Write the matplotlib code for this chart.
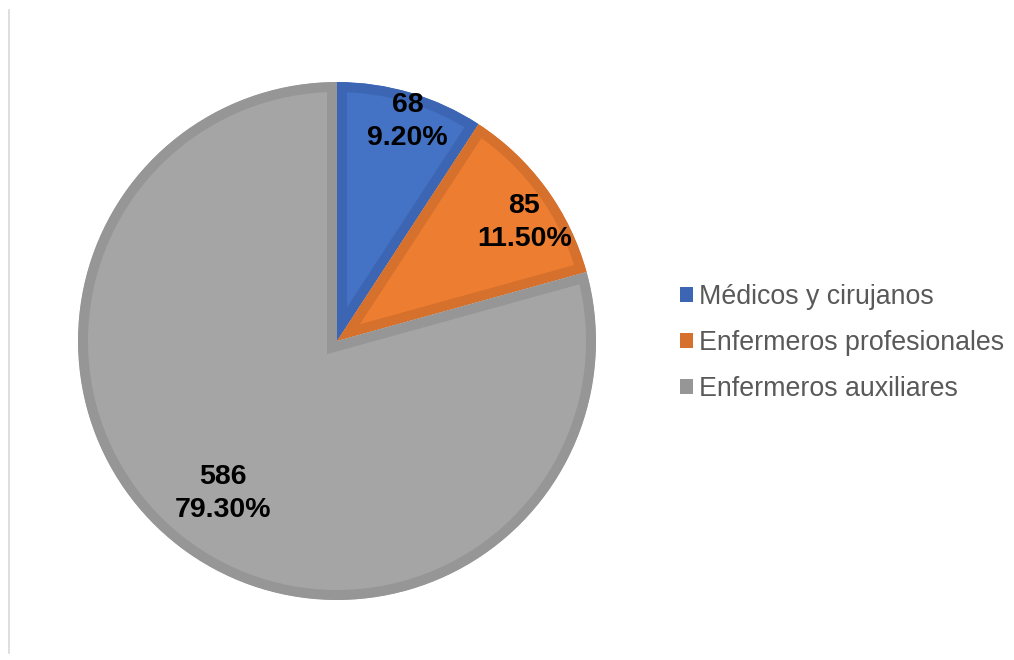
import matplotlib
matplotlib.use("Agg")
import numpy as np
import matplotlib.pyplot as plt
from matplotlib.patches import Patch
from matplotlib.lines import Line2D

plt.rcParams['font.family'] = ['Liberation Sans', 'DejaVu Sans']

categories = ["Médicos y cirujanos", "Enfermeros profesionales", "Enfermeros auxiliares"]
counts = [68, 85, 586]
percent_labels = ["9.20%", "11.50%", "79.30%"]
fill_colors = ["#4472C4", "#ED7D31", "#A5A5A5"]
edge_colors = ["#3C66B3", "#D5712C", "#969696"]

fig = plt.figure(figsize=(10.14, 6.60), dpi=100)
ax = fig.add_axes([78 / 1014, 60 / 660, 518 / 1014, 518 / 660])

wedges, _ = ax.pie(counts, colors=fill_colors, startangle=90, counterclock=False,
                   radius=1.0, wedgeprops=dict(linewidth=14.4))
# inner border: stroke each wedge with a darker shade clipped to its own shape
for w, ec in zip(wedges, edge_colors):
    w.set_edgecolor(ec)
    w.set_clip_path(w)
    w.set_clip_on(True)

ax.set_xlim(-1, 1)
ax.set_ylim(-1, 1)
ax.set_aspect('equal')

# value labels: distance from centre and small angular nudge from each slice's mid angle
label_radius = [0.89, 0.857, 0.736]
label_nudge = [-1.3, -3.8, 0.35]
for w, n, p, r, d in zip(wedges, counts, percent_labels, label_radius, label_nudge):
    ang = np.deg2rad((w.theta1 + w.theta2) / 2 + d)
    ax.text(r * np.cos(ang), r * np.sin(ang), f"{n}\n{p}", ha='center', va='center',
            fontsize=20.5, fontweight='bold', color='black', linespacing=1.36, clip_on=False)

handles = [Patch(facecolor=c, edgecolor='none') for c in edge_colors]
leg = fig.legend(handles, categories, loc='center left', bbox_to_anchor=(669 / 1014, 1 - 343 / 660),
                 frameon=False, fontsize=19.3, labelcolor='#595959', handlelength=0.5,
                 handleheight=0.5, handletextpad=0.22, labelspacing=0.74, borderaxespad=0)

fig.add_artist(Line2D([9 / 1014, 9 / 1014], [1 - 10 / 660, 1 - 653 / 660],
                      transform=fig.transFigure, color='#d9d9d9', linewidth=1.2))

fig.savefig("out.png", dpi=100)
